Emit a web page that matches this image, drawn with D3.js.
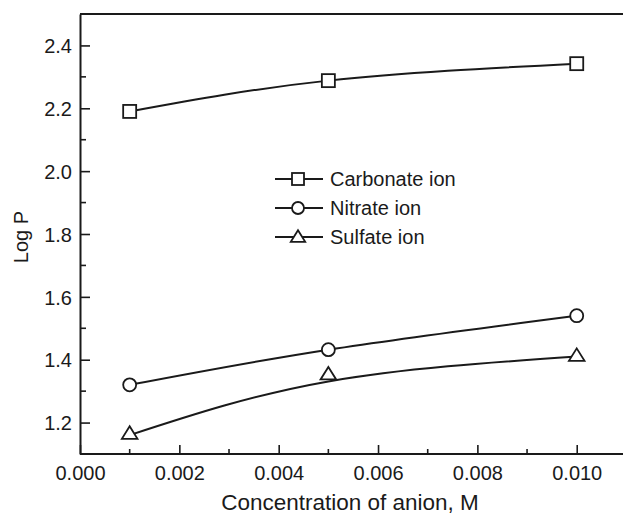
<!DOCTYPE html>
<html>
<head>
<meta charset="utf-8">
<script src="https://cdn.jsdelivr.net/npm/d3@7"></script>
<style>
  body { margin: 0; background: #fff; }
  svg text { font-family: "Liberation Sans", Arial, Helvetica, sans-serif; fill: #1a1a1a; }
</style>
</head>
<body>
<svg id="chart" width="623" height="516"></svg>
<script>
// data
var conc = [0.001, 0.005, 0.010];
var carbonate = [2.19, 2.288, 2.342];
var nitrate = [1.32, 1.432, 1.54];
var sulfate = [1.165, 1.354, 1.413];
// fitted curve values drawn through the points (sulfate curve misses the middle point)
var carbonateFit = [2.19, 2.288, 2.342];
var nitrateFit = [1.32, 1.432, 1.54];
var sulfateFit = [1.16, 1.331, 1.41];
var seriesNames = ["Carbonate ion", "Nitrate ion", "Sulfate ion"];
var xTicks = [0, 0.002, 0.004, 0.006, 0.008, 0.010];
var yTicks = [1.2, 1.4, 1.6, 1.8, 2.0, 2.2, 2.4];

var svg = d3.select("#chart");
var W = 623, H = 516;
var margin = {top: 14, left: 80, bottom: 62};

var x = d3.scaleLinear().domain([0, 0.011]).range([margin.left, 626.4]);
var y = d3.scaleLinear().domain([1.1, 2.5]).range([H - margin.bottom, margin.top]);

var ink = "#1a1a1a";

// frame: left, top and bottom lines
svg.append("line").attr("x1", margin.left).attr("x2", W).attr("y1", y(2.5)).attr("y2", y(2.5))
   .attr("stroke", ink).attr("stroke-width", 2);

var xaxis = svg.append("g")
   .attr("transform", "translate(0," + y(1.1) + ")")
   .call(d3.axisBottom(x).tickValues(xTicks).tickSizeInner(-9).tickSizeOuter(0)
     .tickFormat(d3.format(".3f")));
xaxis.select(".domain").attr("stroke", ink).attr("stroke-width", 2).attr("d", "M" + margin.left + ",0H" + W);
xaxis.selectAll(".tick line").attr("stroke", ink).attr("stroke-width", 1.6);
xaxis.selectAll(".tick text").attr("dy", 0).attr("y", 26).style("font-size", "20px");

var minorX = d3.range(0.001, 0.0111, 0.002);
xaxis.selectAll(".minor").data(minorX).enter().append("line")
   .attr("x1", function(d){ return x(d); }).attr("x2", function(d){ return x(d); })
   .attr("y1", 0).attr("y2", -5).attr("stroke", ink).attr("stroke-width", 1.6);

var yaxis = svg.append("g")
   .attr("transform", "translate(" + margin.left + ",0)")
   .call(d3.axisLeft(y).tickValues(yTicks).tickSizeInner(-10).tickSizeOuter(0)
     .tickFormat(d3.format(".1f")));
yaxis.select(".domain").attr("stroke", ink).attr("stroke-width", 2);
yaxis.selectAll(".tick line").attr("stroke", ink).attr("stroke-width", 1.6);
yaxis.selectAll(".tick text").attr("x", -8).attr("dy", "0.36em").style("font-size", "20px");

var minorY = [1.3, 1.5, 1.7, 1.9, 2.1, 2.3];
yaxis.selectAll(".minor").data(minorY).enter().append("line")
   .attr("y1", function(d){ return y(d); }).attr("y2", function(d){ return y(d); })
   .attr("x1", 0).attr("x2", 6).attr("stroke", ink).attr("stroke-width", 1.6);

// axis titles
svg.append("text").attr("x", 350).attr("y", 510).attr("text-anchor", "middle")
   .style("font-size", "22.5px").text("Concentration of anion, M");
svg.append("text").attr("transform", "translate(28,237) rotate(-90)").attr("text-anchor", "middle")
   .style("font-size", "20px").text("Log P");

// markers
function marker(g, type, cx, cy, s) {
  if (type == 0) {
    g.append("rect").attr("x", cx - s/2).attr("y", cy - s/2).attr("width", s).attr("height", s)
     .attr("fill", "#fff").attr("stroke", ink).attr("stroke-width", 1.8);
  } else if (type == 1) {
    g.append("circle").attr("cx", cx).attr("cy", cy).attr("r", s/2)
     .attr("fill", "#fff").attr("stroke", ink).attr("stroke-width", 1.8);
  } else {
    var h = s * 0.9;
    g.append("path").attr("d", "M" + cx + "," + (cy - h*0.62) + "L" + (cx + s*0.6) + "," + (cy + h*0.45) +
        "L" + (cx - s*0.6) + "," + (cy + h*0.45) + "Z")
     .attr("fill", "#fff").attr("stroke", ink).attr("stroke-width", 1.8);
  }
}

var line = d3.line()
   .x(function(d){ return x(d[0]); })
   .y(function(d){ return y(d[1]); })
   .curve(d3.curveNatural);

var fits = [carbonateFit, nitrateFit, sulfateFit];
var vals = [carbonate, nitrate, sulfate];

fits.forEach(function(f, k){
  svg.append("path")
     .datum(conc.map(function(c, i){ return [c, f[i]]; }))
     .attr("fill", "none").attr("stroke", ink).attr("stroke-width", 2)
     .attr("d", line);
});
vals.forEach(function(v, k){
  var g = svg.append("g");
  conc.forEach(function(c, i){ marker(g, k, x(c), y(v[i]), 13); });
});

// legend
var leg = svg.append("g");
seriesNames.forEach(function(name, k){
  var ly = 179 + k * 29;
  leg.append("line").attr("x1", 275).attr("x2", 323).attr("y1", ly).attr("y2", ly)
     .attr("stroke", ink).attr("stroke-width", 2);
  marker(leg, k, 298, ly, 12);
  leg.append("text").attr("x", 330).attr("y", ly).attr("dy", "0.36em")
     .style("font-size", "20px").text(name);
});
</script>
</body>
</html>
